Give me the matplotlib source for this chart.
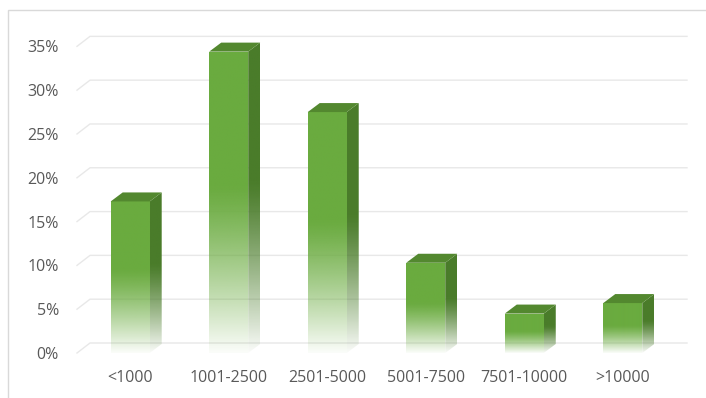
import numpy as np
import matplotlib
matplotlib.use('Agg')
import matplotlib.pyplot as plt
from matplotlib.patches import Polygon, Rectangle
from matplotlib.colors import to_rgb

categories = ['<1000', '1001-2500', '2501-5000', '5001-7500', '7501-10000', '>10000']
shares = [17.3, 34.4, 27.5, 10.3, 4.5, 5.7]
ticks = [0, 5, 10, 15, 20, 25, 30, 35]

front_col = '#6aab3f'
side_col = '#4a7c2a'
top_col = '#53882f'
grid_col = '#e8e8e8'
text_col = '#595959'

plt.rcParams['font.family'] = ['Open Sans', 'DejaVu Sans']

W, H = 706, 398
fig = plt.figure(figsize=(W / 100, H / 100), dpi=100)
# axes = front plane of the 3d box, in pixels
left, right, bottom, top = 77, 674, 353, 37.6
ax = fig.add_axes([left / W, (H - bottom) / H, (right - left) / W, (bottom - top) / H])
x0, x1, y0, y1 = -0.54, 5.52, 0, 36
pxx = (right - left) / (x1 - x0)
pxy = (bottom - top) / (y1 - y0)

# depth offsets (wall and bars), pixels -> data
wdx, wdy = 13 / pxx, 10 / pxy
bdx, bdy = 12 / pxx, 9 / pxy
bw = 39 / pxx

# back wall gridlines with a slanted left side
for t in ticks:
    ax.plot([x0, x0 + wdx, x1 + wdx], [t, t + wdy, t + wdy], color=grid_col,
            lw=1, clip_on=False, zorder=0)


def fade(color, n=200):
    r, g, b = to_rgb(color)
    s = np.linspace(0, 1, n)  # 0 top -> 1 bottom
    u = np.clip((s - 0.45) / 0.55, 0, 1)
    a = 1.0 - 0.97 * u ** 1.2
    img = np.zeros((n, 1, 4))
    img[:, 0, 0], img[:, 0, 1], img[:, 0, 2], img[:, 0, 3] = r, g, b, a
    return img


for i, v in enumerate(shares):
    xl, xr = i - bw / 2, i + bw / 2
    # front face
    face = Rectangle((xl, 0), bw, v, fc='none', ec='none')
    ax.add_patch(face)
    im = ax.imshow(fade(front_col), extent=[xl, xr, 0, v], aspect='auto',
                   interpolation='bilinear', zorder=2)
    im.set_clip_path(face)
    # side face
    side = Polygon([(xr, 0), (xr + bdx, bdy), (xr + bdx, v + bdy), (xr, v)],
                   closed=True, fc='none', ec='none')
    ax.add_patch(side)
    im = ax.imshow(fade(side_col), extent=[xr, xr + bdx, 0, v + bdy], aspect='auto',
                   interpolation='bilinear', zorder=2)
    im.set_clip_path(side)
    # top face
    ax.add_patch(Polygon([(xl, v), (xr, v), (xr + bdx, v + bdy), (xl + bdx, v + bdy)],
                         closed=True, fc=top_col, ec='none', zorder=3))

ax.set_xlim(x0, x1)
ax.set_ylim(y0, y1)
ax.set_yticks(ticks, [f'{t}%' for t in ticks])
ax.set_xticks(range(len(categories)), categories)
ax.tick_params(axis='both', length=0, colors=text_col, labelsize=11.5)
ax.tick_params(axis='y', pad=13)
ax.tick_params(axis='x', pad=12)
for s in ax.spines.values():
    s.set_visible(False)
ax.patch.set_alpha(0)

# chart area border
fig.add_artist(Rectangle((8 / W, -0.1), 1.2, (H - 10) / H + 0.1, transform=fig.transFigure,
                         fill=False, ec='#d9d9d9', lw=1))

fig.savefig('out.png', dpi=100)
